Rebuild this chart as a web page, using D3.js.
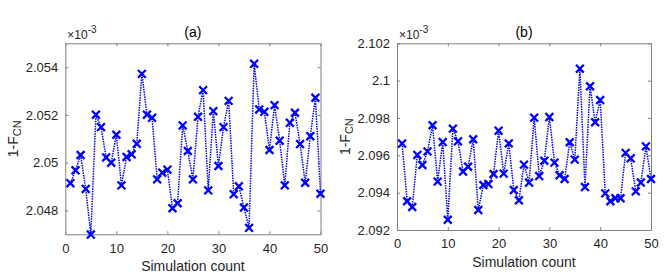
<!DOCTYPE html>
<html><head><meta charset="utf-8">
<script src="https://cdn.jsdelivr.net/npm/d3@7"></script>
<style>body{margin:0;background:#fff}svg{display:block;font-family:"Liberation Sans",Arial,sans-serif}</style>
</head><body><svg id="c" width="664" height="278"></svg>
<script>
const counts = d3.range(1, 51);
const seriesA = [2.04914,2.04968,2.05032,2.04890,2.04699,2.05201,2.05149,2.05022,2.05000,2.05117,
2.04905,2.05024,2.05035,2.05079,2.05372,2.05201,2.05188,2.04930,2.04958,2.04971,
2.04809,2.04830,2.05156,2.05049,2.04930,2.05192,2.05304,2.04884,2.05216,2.04986,
2.05149,2.05259,2.04868,2.04901,2.04812,2.04727,2.05414,2.05223,2.05213,2.05053,
2.05241,2.05092,2.04905,2.05167,2.05209,2.05078,2.04916,2.05111,2.05272,2.04870];
const seriesB = [2.09663,2.09354,2.09323,2.09602,2.09548,2.09621,2.09761,2.09459,2.09671,2.09255,
2.09743,2.09675,2.09513,2.09539,2.09686,2.09307,2.09441,2.09446,2.09500,2.09732,
2.09502,2.09664,2.09414,2.09359,2.09550,2.09454,2.09802,2.09489,2.09571,2.09805,
2.09561,2.09493,2.09473,2.09670,2.09577,2.10064,2.09430,2.09970,2.09777,2.09896,
2.09396,2.09354,2.09370,2.09370,2.09613,2.09584,2.09407,2.09454,2.09648,2.09473];
const xTicks = [0,10,20,30,40,50];
const yTicksA = [2.048,2.050,2.052,2.054];
const yTicksB = [2.092,2.094,2.096,2.098,2.100,2.102];
const titles = ["(a)","(b)"];

const svg = d3.select("#c");
const axisCol = "#808080", textCol = "#262626", blue = "#0000ff";

function panel(box, values, yDomain, yTicks, title, ylabX){
  const x = d3.scaleLinear().domain([0,50]).range([box.l, box.r]);
  const y = d3.scaleLinear().domain(yDomain).range([box.b, box.t]);
  const g = svg.append("g");
  const fmt = v => String(+v.toFixed(3));
  const ax = g.append("g").attr("transform",`translate(0,${box.b})`)
    .call(d3.axisBottom(x).tickValues(xTicks).tickSizeInner(-3).tickSizeOuter(0).tickPadding(9));
  const ay = g.append("g").attr("transform",`translate(${box.l},0)`)
    .call(d3.axisLeft(y).tickValues(yTicks).tickFormat(fmt).tickSizeInner(-3).tickSizeOuter(0).tickPadding(7));
  const axT = g.append("g").attr("transform",`translate(0,${box.t})`)
    .call(d3.axisTop(x).tickValues(xTicks).tickSizeInner(-3).tickSizeOuter(0).tickFormat(""));
  const ayR = g.append("g").attr("transform",`translate(${box.r},0)`)
    .call(d3.axisRight(y).tickValues(yTicks).tickSizeInner(-3).tickSizeOuter(0).tickFormat(""));
  [ax,ay,axT,ayR].forEach(a=>{
    a.select(".domain").attr("stroke",axisCol);
    a.selectAll(".tick line").attr("stroke",axisCol);
    a.selectAll(".tick text").attr("fill",textCol).attr("font-size",13).attr("font-family","Liberation Sans, Arial, sans-serif");
  });
  const line = d3.line().x((d,i)=>x(counts[i])).y(d=>y(d));
  g.append("path").datum(values).attr("d",line).attr("fill","none")
    .attr("stroke",blue).attr("stroke-width",1.5).attr("stroke-dasharray","1.5,1");
  const s = 3.9;
  g.selectAll("path.m").data(values).join("path").attr("class","m")
    .attr("d",(d,i)=>{const cx=x(counts[i]), cy=y(d);
      return `M${cx-s},${cy-s}L${cx+s},${cy+s}M${cx-s},${cy+s}L${cx+s},${cy-s}`;})
    .attr("stroke",blue).attr("stroke-width",2.3).attr("fill","none");
  const ex = g.append("text").attr("x",box.l+2).attr("y",box.t-4).attr("fill",textCol).attr("font-size",12);
  ex.append("tspan").text("\u00d710");
  ex.append("tspan").attr("dy",-6).attr("font-size",10).text("-3");
  g.append("text").attr("x",(box.l+box.r)/2).attr("y",box.t-6).attr("text-anchor","middle")
    .attr("fill","#000").attr("font-size",14).text(title);
  g.append("text").attr("x",(box.l+box.r)/2).attr("y",box.b+37).attr("text-anchor","middle")
    .attr("fill",textCol).attr("font-size",14).text("Simulation count");
  const yl = g.append("text").attr("transform",`translate(${ylabX},${(box.t+box.b)/2}) rotate(-90)`)
    .attr("text-anchor","middle").attr("fill",textCol).attr("font-size",14);
  yl.append("tspan").text("1-F");
  yl.append("tspan").attr("dy",3).attr("font-size",11).text("CN");
}

panel({l:65.3,r:320.5,t:43.3,b:234.3}, seriesA, [2.047,2.055], yTicksA, titles[0], 18);
panel({l:397,r:651,t:43.3,b:230}, seriesB, [2.092,2.102], yTicksB, titles[1], 350);
</script></body></html>
